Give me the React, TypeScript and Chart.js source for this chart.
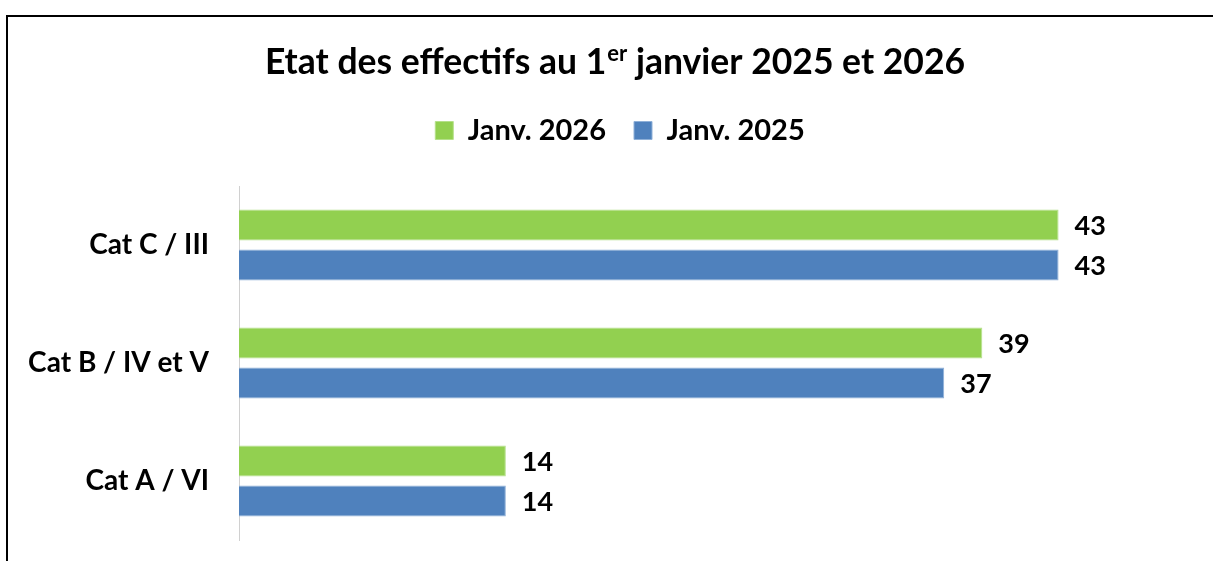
import React, { useEffect, useRef } from "react";
import { Chart, registerables } from "chart.js";

Chart.register(...registerables);

const categories = ["Cat C / III", "Cat B / IV et V", "Cat A / VI"];
const seriesNames = ["Janv. 2026", "Janv. 2025"];
const values2026 = [43, 39, 14];
const values2025 = [43, 37, 14];
const colors = ["#92D050", "#4F81BD"];
const borderColors = ["#b5e08a", "#8fb0d8"];
const titleBefore = "Etat des effectifs au 1";
const titleSup = "er";
const titleAfter = " janvier 2025 et 2026";

const FONT = "Lato, 'Open Sans', sans-serif";

const titlePlugin = {
  id: "supTitle",
  afterDraw(chart: any) {
    const ctx = chart.ctx;
    ctx.save();
    const big = `bold 35.5px ${FONT}`;
    const small = `bold 22px ${FONT}`;
    ctx.font = big;
    const w1 = ctx.measureText(titleBefore).width;
    const w3 = ctx.measureText(titleAfter).width;
    ctx.font = small;
    const w2 = ctx.measureText(titleSup).width;
    const total = w1 + w2 + w3 + 1;
    let x = 615 - total / 2;
    const y = 74;
    ctx.fillStyle = "#000";
    ctx.textBaseline = "alphabetic";
    ctx.textAlign = "left";
    ctx.font = big;
    ctx.fillText(titleBefore, x, y);
    x += w1;
    ctx.font = small;
    ctx.fillText(titleSup, x + 1, y - 13);
    x += w2 + 1;
    ctx.font = big;
    ctx.fillText(titleAfter, x, y);
    ctx.restore();
  },
};

const legendShiftPlugin = {
  id: "legendShift",
  afterLayout(chart: any) {
    if (chart.legend) {
      chart.legend.left += 14;
      chart.legend.right += 14;
    }
  },
};

const valueLabelPlugin = {
  id: "valueLabels",
  afterDatasetsDraw(chart: any) {
    const ctx = chart.ctx;
    ctx.save();
    ctx.font = `bold 27px ${FONT}`;
    ctx.fillStyle = "#000";
    ctx.textAlign = "left";
    ctx.textBaseline = "middle";
    chart.data.datasets.forEach((ds: any, di: number) => {
      const meta = chart.getDatasetMeta(di);
      meta.data.forEach((bar: any, i: number) => {
        ctx.fillText(String(ds.data[i]), bar.x + 16, bar.y + 1);
      });
    });
    ctx.restore();
  },
};

export default function App() {
  const ref = useRef<HTMLCanvasElement>(null);
  useEffect(() => {
    document.body.style.margin = "0";
    const chart = new Chart(ref.current!, {
      type: "bar",
      data: {
        labels: categories,
        datasets: [
          {
            label: seriesNames[0],
            data: values2026,
            backgroundColor: colors[0],
            borderColor: borderColors[0],
            borderWidth: 1,
          },
          {
            label: seriesNames[1],
            data: values2025,
            backgroundColor: colors[1],
            borderColor: borderColors[1],
            borderWidth: 1,
          },
        ],
      },
      options: {
        indexAxis: "y",
        responsive: false,
        animation: false,
        datasets: { bar: { categoryPercentage: 0.68, barPercentage: 0.775 } },
        layout: { padding: { top: 88, right: 21, bottom: 21, left: 20 } },
        plugins: {
          title: { display: false },
          tooltip: { enabled: false },
          legend: {
            display: true,
            position: "top",
            labels: {
              boxWidth: 18,
              boxHeight: 18,
              padding: 28,
              color: "#000",
              font: { family: FONT, size: 29, weight: "bold" },
            },
          },
        },
        scales: {
          x: {
            position: "top",
            min: 0,
            max: 50,
            display: true,
            ticks: { display: false },
            grid: { display: false },
            border: { display: false },
            afterFit: (s: any) => {
              s.height = 31;
            },
          },
          y: {
            grid: { display: false },
            border: { display: true, color: "#d0d0d0", width: 1 },
            ticks: {
              color: "#000",
              padding: 22,
              font: { family: FONT, size: 28, weight: "bold" },
            },
            afterFit: (s: any) => {
              s.width = 219;
              s.paddingTop = 0;
              s.paddingBottom = 0;
            },
          },
        },
      },
      plugins: [titlePlugin, legendShiftPlugin, valueLabelPlugin],
    });
    return () => chart.destroy();
  }, []);
  return (
    <div style={{ position: "relative", width: 1213, height: 561, overflow: "hidden", background: "#fff" }}>
      <canvas ref={ref} width={1213} height={561} style={{ display: "block" }} />
      <div
        style={{
          position: "absolute",
          left: 6,
          top: 15,
          width: 1260,
          height: 620,
          border: "2px solid #000",
          pointerEvents: "none",
        }}
      />
    </div>
  );
}
